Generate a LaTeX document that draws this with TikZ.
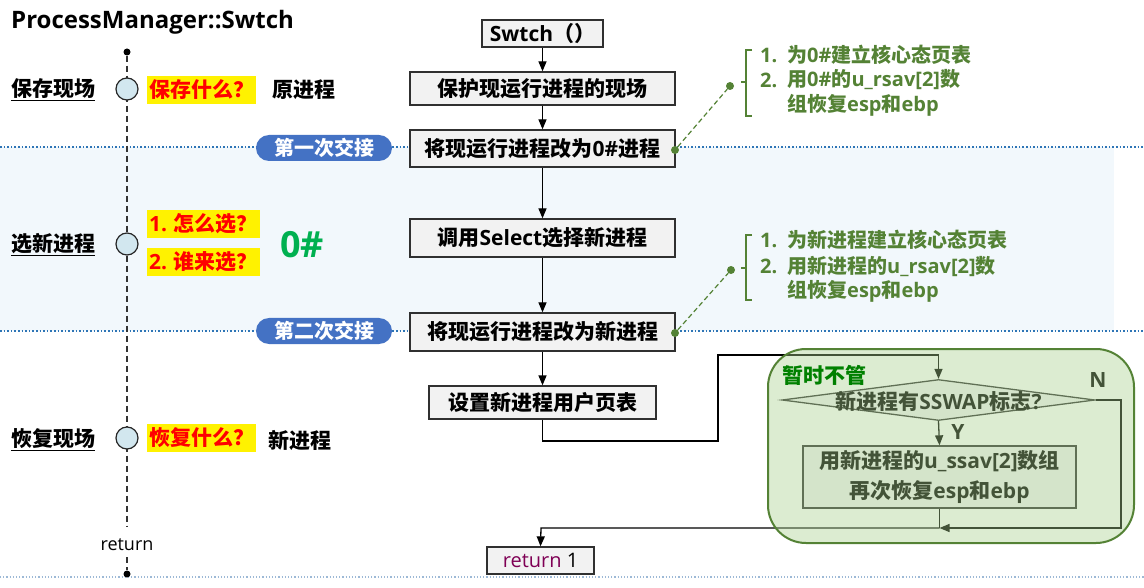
\documentclass[tikz,border=0pt]{standalone}
\usepackage{fontspec}
\setmainfont{Noto Sans CJK SC}
\newfontfamily\lat{Open Sans}
\usetikzlibrary{arrows.meta,shapes.geometric}
\definecolor{boxfill}{HTML}{F2F2F2}
\definecolor{boxline}{HTML}{303030}
\definecolor{bandfill}{HTML}{F2F8FC}
\definecolor{bandline}{HTML}{2E75B6}
\definecolor{pillfill}{HTML}{4472C4}
\definecolor{annot}{HTML}{548235}
\definecolor{grpfill}{HTML}{A9D18E}
\definecolor{grptext}{HTML}{008000}
\definecolor{zerog}{HTML}{00B050}
\definecolor{circfill}{HTML}{D2E7EF}
\definecolor{retcol}{HTML}{7F0055}
\definecolor{lightline}{HTML}{9DB9D6}
\newcommand\fsz[2]{\fontsize{#1}{#2}\selectfont}
\newcommand\La[1]{{\lat #1}}
\tikzset{
  fbox/.style={draw=boxline, fill=boxfill, line width=1.3pt, inner sep=0pt,
    font=\bfseries\fsz{21}{30}, align=center},
  arr/.style={line width=1.3pt, draw=black, -{Triangle[length=10pt,width=8pt]}},
  plain/.style={line width=1.3pt, draw=black},
  tmark/.style={circle, draw=black!85, fill=circfill, line width=1.2pt, minimum width=22pt, minimum height=22pt, inner sep=0pt},
  sidelab/.style={font=\bfseries\fsz{21}{24}, anchor=west, inner sep=0pt},
  ques/.style={fill=yellow, text=red, font=\bfseries\fsz{21}{24}, anchor=west, inner xsep=2pt, inner ysep=3pt, minimum height=28pt},
  pill/.style={fill=pillfill, text=white, rounded corners=13pt, minimum width=136pt, minimum height=26pt, inner sep=0pt, font=\bfseries\fsz{20}{22}},
  bandrule/.style={draw=bandline, line width=1.6pt, dotted},
  anum/.style={text=annot, font=\bfseries\fsz{20}{22}, anchor=west, inner sep=0pt},
  adot/.style={circle, fill=annot, minimum size=8pt, inner sep=0pt},
  alink/.style={draw=annot, line width=1.2pt, dash pattern=on 5pt off 3pt},
  bracket/.style={draw=annot, line width=1.4pt},
  tdot/.style={circle, fill=black, minimum size=7pt, inner sep=0pt},
}
\begin{document}
\begin{tikzpicture}[x=1pt,y=-1pt]
\useasboundingbox (0,0) rectangle (1144,588);
\fill[white] (0,0) rectangle (1144,588);
% band
\fill[bandfill] (0,147) rectangle (1114,331);
\draw[bandrule] (0,147) -- (1144,147);
\draw[bandrule] (0,331) -- (1144,331);
\draw[draw=lightline, line width=1.2pt, dotted] (0,577) -- (1144,577);

% title
\node[anchor=west, inner sep=0pt, font=\lat\bfseries\fsz{24}{28}] (title) at (11,22) {ProcessManager::Swtch};

% timeline
\node[tdot] (ttop) at (127,52) {};
\node[tdot] (tbot) at (127,574) {};
\node[font=\lat\fsz{18}{22}, inner sep=0pt] (tret) at (127,545) {return};
\coordinate (tgap) at (127,527);
\draw[draw=black!80, line width=1.5pt, dash pattern=on 6pt off 4pt] (ttop) -- (tgap);
\draw[draw=black!80, line width=1.5pt, dash pattern=on 6pt off 4pt] (tret.south) ++(0,6) -- (tbot);
\node[tmark] (c1) at (127,89) {};
\node[tmark] (c2) at (127,244) {};
\node[tmark] (c3) at (127,438) {};

% left labels
\node[sidelab] (l1) at (11,90) {\underline{保存现场}};
\node[sidelab] (l2) at (11,245) {\underline{选新进程}};
\node[sidelab] (l3) at (11,440) {\underline{恢复现场}};

\node[ques] (q1) at (147,90) {保存什么？};
\node[sidelab] (p1) at (272,90) {原进程};
\node[ques] (q2) at (147,224) {\La{1.} 怎么选？};
\node[ques] (q3) at (147,262) {\La{2.} 谁来选？};
\node[text=zerog, font=\lat\bfseries\fsz{36}{40}, inner sep=0pt] (zero) at (302,245) {0\#};
\node[ques] (q4) at (147,438) {恢复什么？};
\node[sidelab] (p3) at (268,440) {新进程};

% pills
\node[pill] (h1) at (324,148) {第一次交接};
\node[pill] (h2) at (324,331) {第二次交接};

% main flow
\node[fbox, minimum width=121pt, minimum height=27pt] (sw) at (542.5,33.5) {\La{Swtch}（）};
\node[fbox, minimum width=265pt, minimum height=33pt] (save) at (542.5,88.5) {保护现运行进程的现场};
\node[fbox, minimum width=265pt, minimum height=37pt] (zr) at (542.5,148.5) {将现运行进程改为\La{0\#}进程};
\node[fbox, minimum width=265pt, minimum height=38pt] (sel) at (542.5,238) {调用\La{Select}选择新进程};
\node[fbox, minimum width=265pt, minimum height=38pt] (nw) at (542.5,332) {将现运行进程改为新进程};
\node[fbox, minimum width=227pt, minimum height=33pt] (set) at (542.5,402.5) {设置新进程用户页表};
\node[fbox, font=\lat\fsz{20}{24}, minimum width=107pt, minimum height=27pt] (ret) at (540.5,560.5) {\textcolor{retcol}{return} 1};

\draw[arr] (sw) -- (save);
\draw[arr] (save) -- (zr);
\draw[arr] (zr) -- (sel);
\draw[arr] (sel) -- (nw);
\draw[arr] (nw) -- (set);

% sswap part
\node[diamond, draw=boxline, fill=boxfill, line width=1.3pt, minimum width=313pt, minimum height=41pt, inner sep=0pt] (dia) at (938.5,400) {};
\node[font=\bfseries\fsz{21}{24}, inner sep=0pt, text=black] (diat) at (938.5,401) {新进程有\La{SSWAP}标志\La{?}};
\node[fbox, minimum width=273pt, minimum height=62pt, text=black] (inner) at (939.5,477) {用新进程的\La{u\_ssav[2]}数组\\再次恢复\La{esp}和\La{ebp}};
\coordinate (merge) at (939.5,528);
\draw[arr] (set.south) |- (718,441) -- (718,355) -| (dia.north);
\draw[arr] (dia.south) -- (inner.north);
\draw[plain] (inner.south) -- (merge);
\draw[arr] (dia.east) -- (1121,400) -- (1121,528) -- (merge);
\draw[arr] (merge) -- (541,528) -- (ret.north);
\node[font=\lat\bfseries\fsz{21}{24}, inner sep=0pt, text=black] (ylab) at (958,432) {Y};
\node[font=\lat\bfseries\fsz{21}{24}, inner sep=0pt, text=black] (nlab) at (1098,380) {N};

% green overlay
\node[draw=annot, line width=2pt, fill=grpfill, fill opacity=0.4, rounded corners=38pt, minimum width=366pt, minimum height=194pt, inner sep=0pt] (grp) at (951,446) {};
\node[anchor=west, text=grptext, font=\bfseries\fsz{21}{24}, inner sep=0pt] (grpl) at (782,375) {暂时不管};

% annotations 1
\node[adot] (d1a) at (675,150) {};
\node[adot] (d1b) at (730,86) {};
\draw[alink] (d1a) -- (d1b);
\draw[bracket] (752,50) -- (746,50) -- (746,116) -- (752,116);
\draw[bracket] (746,82) -- (741,82);
\node[anum] (a11) at (760,55) {\La{1.}};
\node[anum] (a12) at (787,55) {为\La{0\#}建立核心态页表};
\node[anum] (a21) at (760,80) {\La{2.}};
\node[anum] (a22) at (787,80) {用\La{0\#}的\La{u\_rsav[2]}数};
\node[anum] (a23) at (787,105) {组恢复\La{esp}和\La{ebp}};

% annotations 2
\node[adot] (d2a) at (675,333) {};
\node[adot] (d2b) at (731,270) {};
\draw[alink] (d2a) -- (d2b);
\draw[bracket] (752,235) -- (746,235) -- (746,300) -- (752,300);
\draw[bracket] (746,268) -- (741,268);
\node[anum] (b11) at (760,240) {\La{1.}};
\node[anum] (b12) at (787,240) {为新进程建立核心态页表};
\node[anum] (b21) at (760,266) {\La{2.}};
\node[anum] (b22) at (787,266) {用新进程的\La{u\_rsav[2]}数};
\node[anum] (b23) at (787,291) {组恢复\La{esp}和\La{ebp}};
\end{tikzpicture}
\end{document}
